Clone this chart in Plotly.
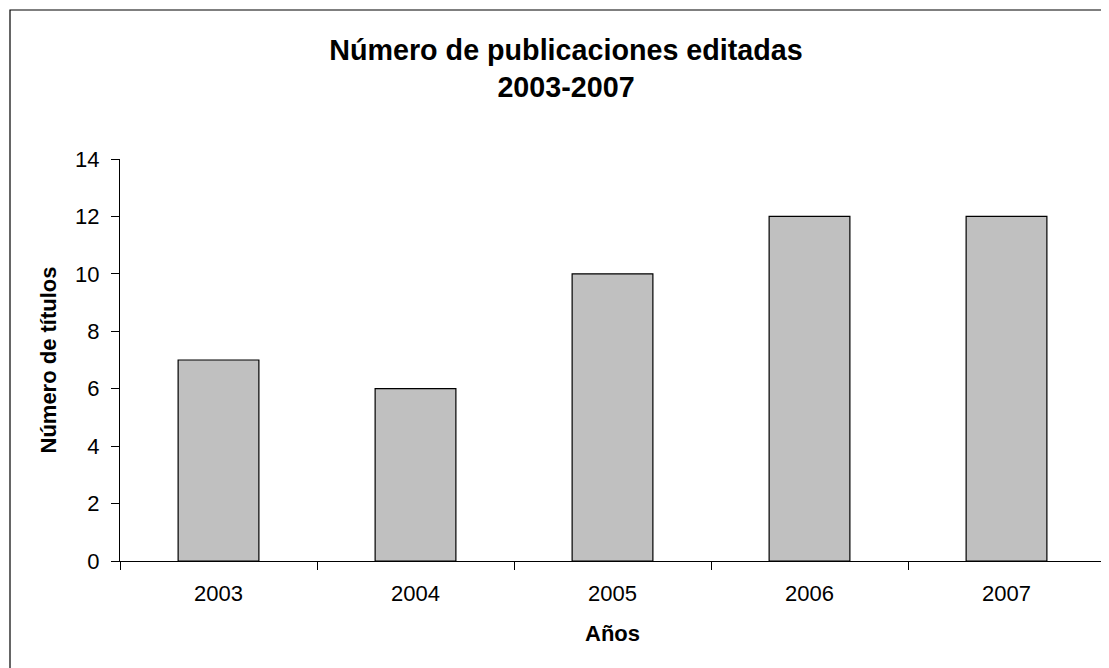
import plotly.graph_objects as go

years = ["2003", "2004", "2005", "2006", "2007"]
titles = [7, 6, 10, 12, 12]
y_ticks = [0, 2, 4, 6, 8, 10, 12, 14]

FONT = "Liberation Sans, Arial, sans-serif"

fig = go.Figure()
fig.add_trace(go.Bar(
    x=years, y=titles,
    width=0.41,
    marker=dict(color="#C0C0C0", line=dict(color="#000000", width=1.2)),
    hoverinfo="x+y",
))

W, H = 1109, 668
ml, mr, mt, mb = 112, 12, 151, 115
pw, ph = W - ml - mr, H - mt - mb

def px_to_paper_x(px):
    return (px - ml) / pw

def px_to_paper_y(py):
    return (H - mb - py) / ph

fig.update_layout(
    width=W, height=H,
    margin=dict(l=ml, r=mr, t=mt, b=mb),
    paper_bgcolor="white", plot_bgcolor="white",
    font=dict(family=FONT, color="#000000", size=22),
    showlegend=False,
    bargap=0.59,
    title=dict(
        text="<b>Número de publicaciones editadas<br>2003-2007</b>",
        font=dict(family=FONT, size=28.7, color="#000000"),
        x=558 / W, xref="container", xanchor="center",
        y=(H - 52) / H, yref="container", yanchor="middle",
    ),
    xaxis=dict(
        type="category",
        showline=True, linecolor="#000000", linewidth=1.2,
        ticks="outside", ticklen=8, tickcolor="#000000", tickwidth=1.2,
        tickson="boundaries", ticklabelstandoff=12,
        showgrid=False, zeroline=False,
        tickfont=dict(family=FONT, size=22),
        title=dict(text="<b>Años</b>", font=dict(family=FONT, size=22), standoff=21),
    ),
    yaxis=dict(
        range=[0, 14], tickvals=y_ticks,
        showline=True, linecolor="#000000", linewidth=1.2,
        ticks="outside", ticklen=8, tickcolor="#000000", tickwidth=1.2,
        ticklabelstandoff=7,
        showgrid=False, zeroline=False,
        tickfont=dict(family=FONT, size=22),
        title=dict(text="<b>Número de títulos</b>", font=dict(family=FONT, size=22), standoff=12),
    ),
    shapes=[dict(
        type="rect", xref="paper", yref="paper",
        x0=px_to_paper_x(2), x1=px_to_paper_x(1130),
        y0=px_to_paper_y(700), y1=px_to_paper_y(2),
        line=dict(color="#000000", width=1.2), fillcolor="rgba(0,0,0,0)",
        layer="below",
    )],
)

fig.write_html("out.html")
